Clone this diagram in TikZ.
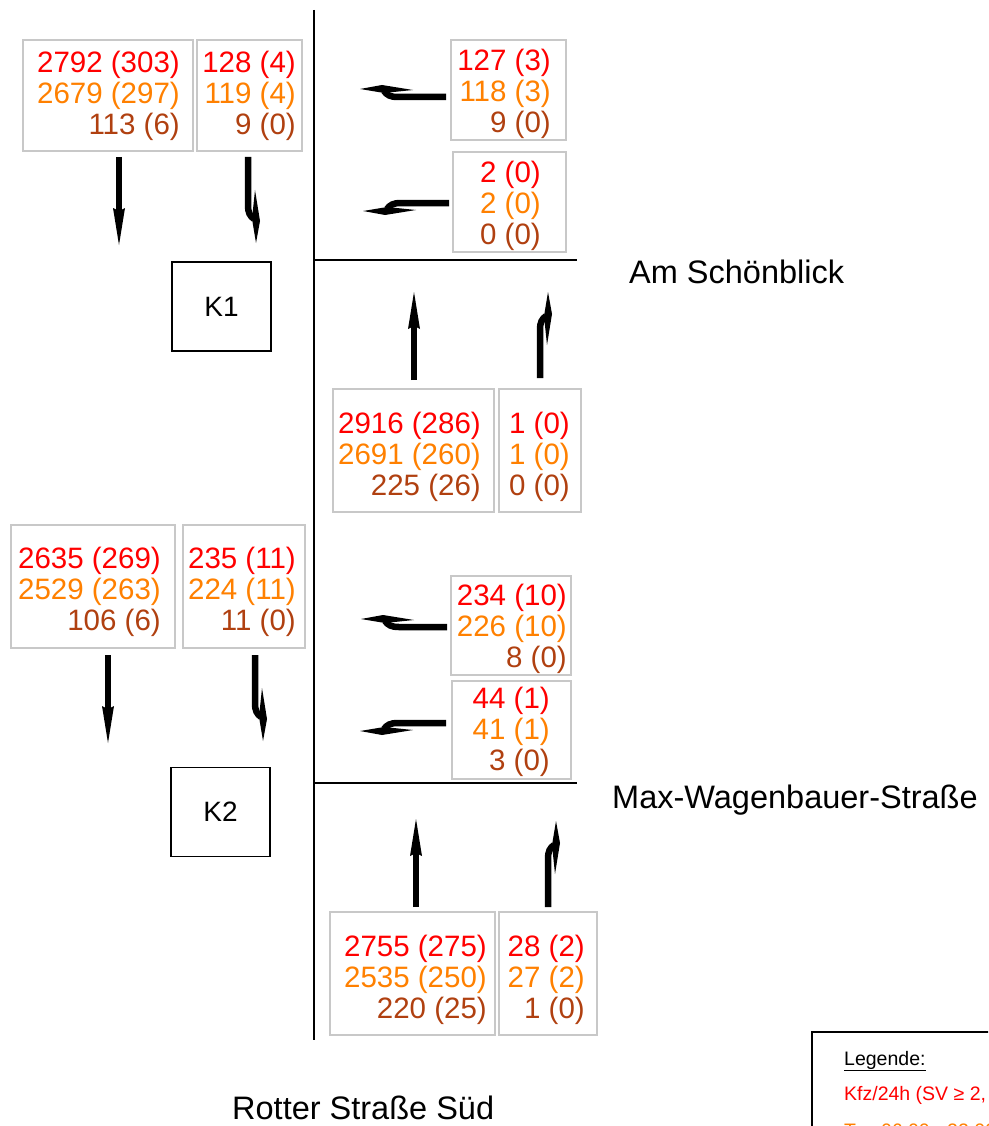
\documentclass[tikz,border=0pt]{standalone}
\usepackage{fontspec}
\setmainfont{Liberation Sans}
\definecolor{cr}{RGB}{255,0,0}
\definecolor{co}{RGB}{255,128,0}
\definecolor{cb}{RGB}{176,64,16}
\definecolor{gb}{RGB}{200,200,200}
\tikzset{
  gbox/.style={draw=gb, line width=1.2pt, inner sep=0pt},
  nums/.style={font=\fontsize{29.5}{31}\selectfont, align=right, inner sep=0pt, anchor=east},
  kbox/.style={draw, line width=1.6pt, inner sep=0pt, font=\fontsize{28}{30}\selectfont},
  street/.style={font=\fontsize{32.5}{34}\selectfont, inner sep=0pt, anchor=base west},
  road/.style={line width=2pt},
  straightarr/.pic={
    \draw[line width=6.5pt] (0,0) -- (0,-56);
    \fill (0,-88) -- (6,-51) -- (0,-54) -- (-6,-51) -- cycle;
  },
  bentarr/.pic={
    \draw[line width=6.5pt] (0,0) -- (0,-48) .. controls (0,-56) and (2,-59) .. (6,-62);
    \fill (8,-86) -- (12,-64) -- (7,-33) -- (4,-62) -- cycle;
  }
}
\begin{document}
\begin{tikzpicture}[x=1pt,y=-1pt]
\useasboundingbox (0,0) rectangle (988,1126);
\clip (0,0) rectangle (988,1126);

% roads
\draw[road] (314,10) -- (314,1040);
\draw[road] (314,260) -- (577,260);
\draw[road] (314,783) -- (577,783);

% street names
\node[street] (s1) at (629,283) {Am Schönblick};
\node[street] (s2) at (612,808) {Max-Wagenbauer-Straße};
\node[street] (s3) at (232,1119) {Rotter Straße Süd};

% K boxes
\node[kbox, minimum width=99pt, minimum height=89pt] (K1) at (221.5,306.5) {K1};
\node[kbox, minimum width=99pt, minimum height=89pt] (K2) at (220.5,812) {K2};

% count boxes
\node[gbox, minimum width=170pt, minimum height=111pt] (A) at (108,95.5) {};
\node[nums] (tA) at (180,96) {\color{cr}2792 (303)\\\color{co}2679 (297)\\\color{cb}113 (6)};
\node[gbox, minimum width=105pt, minimum height=111pt] (B) at (249.5,95.5) {};
\node[nums] (tB) at (296,96) {\color{cr}128 (4)\\\color{co}119 (4)\\\color{cb}9 (0)};

\node[gbox, minimum width=115pt, minimum height=100pt] (C) at (508.5,90) {};
\node[nums] (tC) at (551,94) {\color{cr}127 (3)\\\color{co}118 (3)\\\color{cb}9 (0)};
\node[gbox, minimum width=113pt, minimum height=100pt] (D) at (509.5,202) {};
\node[nums] (tD) at (541,206) {\color{cr}2 (0)\\\color{co}2 (0)\\\color{cb}0 (0)};

\node[gbox, minimum width=161pt, minimum height=123pt] (E) at (413.5,450.5) {};
\node[nums] (tE) at (481,457) {\color{cr}2916 (286)\\\color{co}2691 (260)\\\color{cb}225 (26)};
\node[gbox, minimum width=82pt, minimum height=123pt] (F) at (540,450.5) {};
\node[nums] (tF) at (570,457) {\color{cr}1 (0)\\\color{co}1 (0)\\\color{cb}0 (0)};

\node[gbox, minimum width=164pt, minimum height=123pt] (G) at (93,586.5) {};
\node[nums] (tG) at (161,592) {\color{cr}2635 (269)\\\color{co}2529 (263)\\\color{cb}106 (6)};
\node[gbox, minimum width=122pt, minimum height=123pt] (H) at (244,586.5) {};
\node[nums] (tH) at (296,592) {\color{cr}235 (11)\\\color{co}224 (11)\\\color{cb}11 (0)};

\node[gbox, minimum width=120pt, minimum height=99pt] (I) at (511,625.5) {};
\node[nums] (tI) at (567,629) {\color{cr}234 (10)\\\color{co}226 (10)\\\color{cb}8 (0)};
\node[gbox, minimum width=119pt, minimum height=98pt] (J) at (511.5,730) {};
\node[nums] (tJ) at (550,732) {\color{cr}44 (1)\\\color{co}41 (1)\\\color{cb}3 (0)};

\node[gbox, minimum width=165pt, minimum height=123pt] (K) at (412.5,973.5) {};
\node[nums] (tK) at (487,980) {\color{cr}2755 (275)\\\color{co}2535 (250)\\\color{cb}220 (25)};
\node[gbox, minimum width=98pt, minimum height=123pt] (L) at (548,973.5) {};
\node[nums] (tL) at (585,980) {\color{cr}28 (2)\\\color{co}27 (2)\\\color{cb}1 (0)};

% turn arrows, junction K1
\pic[yscale=-1] at (119,157) {straightarr};
\pic[yscale=-1] at (248,157) {bentarr};
\pic[rotate=90] at (446,97) {bentarr};
\pic[cm={0,-1,-1,0,(0,0)}] at (449,203) {bentarr};
\pic at (414,380) {straightarr};
\pic at (540,378) {bentarr};

% turn arrows, junction K2
\pic[yscale=-1] at (108,655) {straightarr};
\pic[yscale=-1] at (255,655) {bentarr};
\pic[rotate=90] at (447,627) {bentarr};
\pic[cm={0,-1,-1,0,(0,0)}] at (446,723) {bentarr};
\pic at (416,907) {straightarr};
\pic at (548,907) {bentarr};

% legend
\draw[line width=2pt] (812,1032) rectangle (1010,1160);
\node[inner sep=0pt, anchor=base west, font=\fontsize{19.5}{21}\selectfont] (lg1) at (844,1065) {\underline{Legende:}};
\node[inner sep=0pt, anchor=base west, font=\fontsize{19.5}{21}\selectfont, text=cr] (lg2) at (844,1100) {Kfz/24h (SV ≥ 2,};
\node[inner sep=0pt, anchor=base west, font=\fontsize{19.5}{21}\selectfont, text=co] (lg3) at (844,1137) {Tag 06:00 - 22:00};
\end{tikzpicture}
\end{document}
